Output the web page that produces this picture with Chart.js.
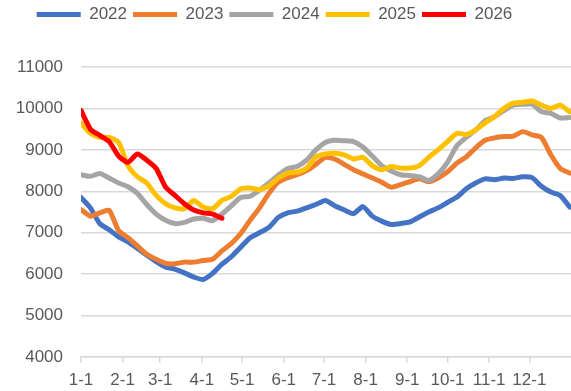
<!DOCTYPE html>
<html>
<head>
<meta charset="utf-8">
<script src="https://cdn.jsdelivr.net/npm/chart.js@4.4.1/dist/chart.umd.min.js"></script>
<style>
    html, body { margin: 0; padding: 0; background: #ffffff; }
    #wrap { width: 571px; height: 391px; }
</style>
</head>
<body>
<div id="wrap"><canvas id="chart" width="571" height="391"></canvas></div>
<script>
// Day of year for each weekly reading
const weekDays = [0, 7, 14, 21, 28, 35, 42, 49, 56, 63, 70, 77, 84, 91, 98, 105, 112, 119, 126, 133,
    140, 147, 154, 161, 168, 175, 182, 189, 196, 203, 210, 217, 224, 231, 238, 245, 252, 259, 266, 273,
    280, 287, 294, 301, 308, 315, 322, 329, 336, 343, 350, 357, 364];

// Month starts on the x axis
const monthDays = [0, 31, 59, 90, 120, 151, 181, 212, 243, 273, 304, 334];
const monthLabels = ['1-1', '2-1', '3-1', '4-1', '5-1', '6-1', '7-1', '8-1', '9-1', '10-1', '11-1', '12-1'];

const yTicks = [4000, 5000, 6000, 7000, 8000, 9000, 10000, 11000];

const s2022 = [7850, 7600, 7220, 7070, 6900, 6780, 6620, 6460, 6300, 6170, 6120, 6030, 5930, 5870, 6020, 6240,
    6420, 6650, 6880, 7000, 7130, 7370, 7480, 7520, 7600, 7680, 7780, 7650, 7550, 7460, 7630, 7400,
    7280, 7200, 7220, 7260, 7380, 7500, 7600, 7730, 7860, 8060, 8200, 8300, 8280, 8320, 8310, 8350,
    8330, 8120, 7980, 7900, 7620];
const s2023 = [7560, 7400, 7480, 7540, 7050, 6880, 6680, 6480, 6360, 6260, 6250, 6290, 6290, 6330, 6360, 6560,
    6740, 6980, 7300, 7600, 7950, 8220, 8330, 8400, 8500, 8650, 8820, 8780, 8650, 8520, 8420, 8320,
    8220, 8100, 8160, 8230, 8300, 8230, 8320, 8470, 8680, 8830, 9050, 9230, 9290, 9320, 9330, 9440,
    9360, 9300, 8880, 8550, 8440];
const s2024 = [8400, 8360, 8430, 8320, 8200, 8110, 7950, 7680, 7450, 7300, 7220, 7250, 7330, 7350, 7290, 7450,
    7650, 7850, 7880, 8030, 8200, 8390, 8550, 8600, 8750, 9000, 9180, 9230, 9220, 9200, 9070, 8850,
    8620, 8490, 8400, 8380, 8350, 8260, 8420, 8700, 9100, 9300, 9480, 9700, 9800, 9950, 10080, 10100,
    10100, 9920, 9880, 9770, 9780];
const s2025 = [9650, 9400, 9300, 9300, 9180, 8620, 8350, 8200, 7900, 7700, 7600, 7580, 7780, 7620, 7580, 7780,
    7880, 8060, 8080, 8040, 8130, 8320, 8440, 8460, 8560, 8830, 8900, 8920, 8880, 8780, 8820, 8620,
    8520, 8600, 8560, 8560, 8620, 8820, 9000, 9200, 9400, 9370, 9480, 9650, 9800, 10000, 10130, 10150,
    10180, 10080, 10000, 10080, 9920];
const s2026 = [9950, 9500, 9350, 9200, 8850, 8700, 8900, 8750, 8550, 8100, 7900, 7700, 7550, 7480, 7450, 7350];

const seriesNames = ['2022', '2023', '2024', '2025', '2026'];
const seriesValues = [s2022, s2023, s2024, s2025, s2026];
const seriesColors = ['#4472C4', '#ED7D31', '#A5A5A5', '#FFC000', '#FF0000'];

Chart.defaults.font.family = '"Liberation Sans", Arial, sans-serif';
Chart.defaults.font.size = 17;
Chart.defaults.color = '#595959';

function toPoints(values) {
    return values.map((v, i) => ({ x: weekDays[i], y: v }));
}

// Later years are drawn on top of earlier ones
const datasets = seriesNames.map((name, i) => ({
    label: name,
    data: toPoints(seriesValues[i]),
    borderColor: seriesColors[i],
    backgroundColor: seriesColors[i],
    borderWidth: 5,
    borderCapStyle: 'round',
    borderJoinStyle: 'round',
    pointRadius: 0,
    tension: 0.2,
    fill: false,
    order: seriesNames.length - 1 - i
}));

// Fix the legend band height and nudge the row a little to the left
const legendHeight = {
    id: 'legendHeight',
    beforeLayout(chart) {
        const legend = chart.legend;
        if (!legend || legend._fixedFit) return;
        const fit = legend.fit;
        legend.fit = function () {
            fit.call(this);
            this.height = 67;
            if (this.lineWidths && this.lineWidths.length) this.lineWidths[0] += 22;
        };
        legend._fixedFit = true;
    }
};

new Chart(document.getElementById('chart'), {
    type: 'line',
    data: { datasets },
    options: {
        responsive: false,
        animation: false,
        layout: { padding: 0 },
        plugins: {
            legend: {
                position: 'top',
                labels: {
                    usePointStyle: true,
                    pointStyle: 'line',
                    pointStyleWidth: 44,
                    padding: 6,
                    color: '#595959',
                    font: { size: 17 },
                    sort: (a, b) => a.datasetIndex - b.datasetIndex
                }
            },
            tooltip: { enabled: false }
        },
        scales: {
            x: {
                type: 'linear',
                min: 0,
                max: 365,
                afterBuildTicks: (scale) => {
                    scale.ticks = monthDays.map(d => ({ value: d }));
                },
                afterFit: (scale) => { scale.height = 34; },
                ticks: {
                    autoSkip: false,
                    maxRotation: 0,
                    padding: 7,
                    callback: (v) => monthLabels[monthDays.indexOf(v)]
                },
                grid: {
                    drawOnChartArea: false,
                    drawTicks: true,
                    tickLength: 6,
                    color: '#d9d9d9',
                    lineWidth: 1.5
                },
                border: { display: true, color: '#d9d9d9', width: 1.5 }
            },
            y: {
                min: 4000,
                max: 11000,
                afterBuildTicks: (scale) => {
                    scale.ticks = yTicks.map(v => ({ value: v }));
                },
                afterFit: (scale) => { scale.width = 81; },
                ticks: {
                    padding: 18,
                    callback: (v) => String(v)
                },
                grid: {
                    drawTicks: false,
                    color: '#d9d9d9',
                    lineWidth: 1.5
                },
                border: { display: false }
            }
        }
    },
    plugins: [legendHeight]
});
</script>
</body>
</html>
